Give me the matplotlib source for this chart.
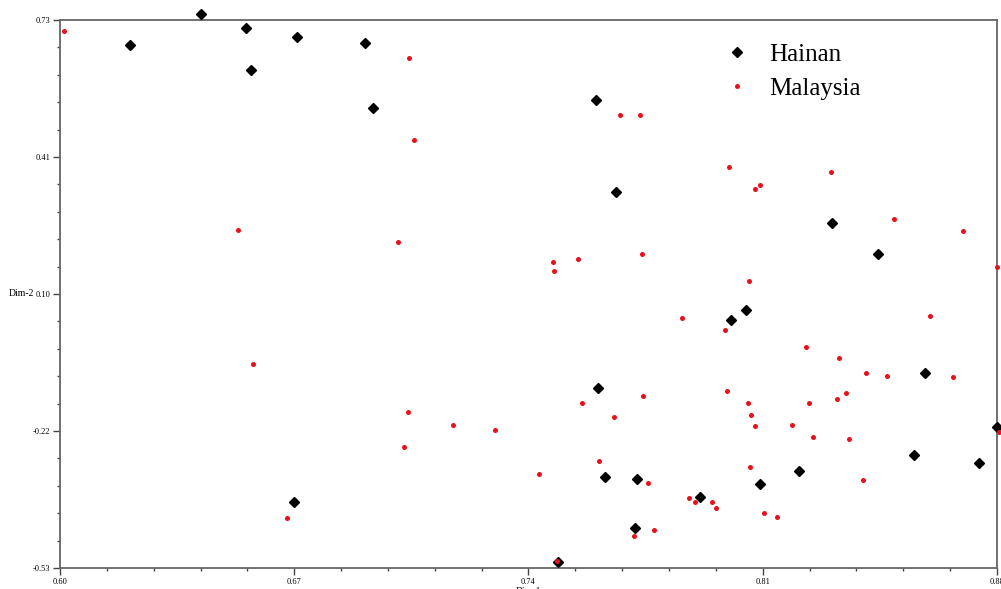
import matplotlib.pyplot as plt
from matplotlib.ticker import AutoMinorLocator

# Hainan samples (Dim-1, Dim-2)
hainan_x = [0.6421, 0.6209, 0.6556, 0.6571, 0.6708, 0.6911, 0.6935, 0.7602,
            0.7662, 0.8307, 0.8444, 0.8050, 0.8005, 0.7608, 0.7629, 0.7724,
            0.7913, 0.7718, 0.7488, 0.6699, 0.8208, 0.8092, 0.8585, 0.8552,
            0.8746, 0.8800]
hainan_y = [0.7438, 0.6725, 0.7116, 0.6150, 0.6909, 0.6771, 0.5277, 0.5460,
            0.3345, 0.2632, 0.1920, 0.0632, 0.0402, -0.1162, -0.3208, -0.3254,
            -0.3668, -0.4381, -0.5163, -0.3783, -0.3070, -0.3369, -0.0817,
            -0.2702, -0.2886, -0.2058]

# Malaysia samples (Dim-1, Dim-2)
malaysia_x = [0.6012, 0.7043, 0.7673, 0.7733, 0.7058, 0.6532, 0.7010, 0.7473,
              0.7476, 0.7548, 0.7739, 0.7999, 0.8304, 0.8077, 0.8092, 0.8492,
              0.8698, 0.8800, 0.8059, 0.7859, 0.7987, 0.8600, 0.8229, 0.6577,
              0.7040, 0.7174, 0.7300, 0.7028, 0.7431, 0.6678, 0.7560, 0.7742,
              0.7656, 0.7993, 0.8056, 0.8065, 0.8077, 0.7611, 0.7757, 0.8062,
              0.7880, 0.7898, 0.7948, 0.7960, 0.8104, 0.8143, 0.7775, 0.7715,
              0.7485, 0.8328, 0.8409, 0.8471, 0.8669, 0.8349, 0.8322, 0.8238,
              0.8187, 0.8250, 0.8358, 0.8400, 0.8806]
malaysia_y = [0.7047, 0.6426, 0.5116, 0.5116, 0.4541, 0.2471, 0.2195, 0.1736,
              0.1529, 0.1804, 0.1920, 0.3920, 0.3805, 0.3414, 0.3506, 0.2724,
              0.2448, 0.1620, 0.1299, 0.0448, 0.0172, 0.0494, -0.0219, -0.0610,
              -0.1714, -0.2013, -0.2128, -0.2518, -0.3139, -0.4151, -0.1507,
              -0.1346, -0.1829, -0.1231, -0.1507, -0.1783, -0.2035, -0.2840,
              -0.3346, -0.2978, -0.3691, -0.3783, -0.3783, -0.3921, -0.4036,
              -0.4128, -0.4427, -0.4565, -0.5140, -0.0472, -0.0817, -0.0886,
              -0.0909, -0.1277, -0.1415, -0.1507, -0.2013, -0.2289, -0.2335,
              -0.3277, -0.2174]

x_ticks = [0.60, 0.67, 0.74, 0.81, 0.88]
x_labels = ['0.60', '0.67', '0.74', '0.81', '0.88']
y_ticks = [-0.53, -0.215, 0.10, 0.415, 0.73]
y_labels = ['-0.53', '-0.22', '0.10', '0.41', '0.73']

plt.rcParams['font.family'] = ['Liberation Serif', 'DejaVu Serif']

fig = plt.figure(figsize=(10.01, 5.89), dpi=100)
ax = fig.add_axes([60 / 1001, 21 / 589, 937 / 1001, 548 / 589])

ax.plot(hainan_x, hainan_y, linestyle='none', marker='D', markersize=5,
        color='black', label='Hainan', clip_on=False, zorder=3)
ax.plot(malaysia_x, malaysia_y, linestyle='none', marker='o', markersize=3.6,
        color='#e8101a', markeredgewidth=0, label='Malaysia', clip_on=False, zorder=3)

ax.set_xlim(0.60, 0.88)
ax.set_ylim(-0.53, 0.73)
ax.set_xticks(x_ticks)
ax.set_xticklabels(x_labels)
ax.set_yticks(y_ticks)
ax.set_yticklabels(y_labels)
ax.xaxis.set_minor_locator(AutoMinorLocator(5))
ax.yaxis.set_minor_locator(AutoMinorLocator(5))
ax.tick_params(which='major', length=5, width=1, color='#444444',
               labelsize=6, pad=2)
ax.tick_params(which='minor', length=2.5, width=1, color='#444444')

for s in ax.spines.values():
    s.set_color('#666666')
    s.set_linewidth(1.3)

ax.set_xlabel('Dim-1', fontsize=7, labelpad=1)
ax.set_ylabel('Dim-2', fontsize=7, rotation=0, labelpad=8, va='center')

ax.legend(loc='upper left', bbox_to_anchor=(0.6985, 0.975), frameon=False,
          fontsize=18, handlelength=1.0, handletextpad=0.8, labelspacing=0.45,
          borderaxespad=0)

fig.savefig('out.png', dpi=100)
